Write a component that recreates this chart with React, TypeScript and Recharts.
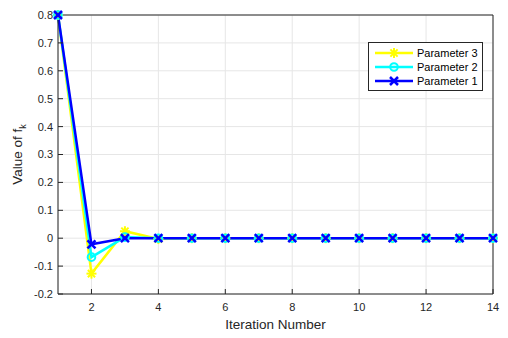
import React from 'react';
import { LineChart, Line, XAxis, YAxis, CartesianGrid, Legend } from 'recharts';

const iterations = [1, 2, 3, 4, 5, 6, 7, 8, 9, 10, 11, 12, 13, 14];
const param1 = [0.8, -0.022, 0, 0, 0, 0, 0, 0, 0, 0, 0, 0, 0, 0];
const param2 = [0.8, -0.068, 0.004, 0, 0, 0, 0, 0, 0, 0, 0, 0, 0, 0];
const param3 = [0.8, -0.127, 0.025, -0.003, 0, 0, 0, 0, 0, 0, 0, 0, 0, 0];
const xTicks = [2, 4, 6, 8, 10, 12, 14];
const yTicks = [-0.2, -0.1, 0, 0.1, 0.2, 0.3, 0.4, 0.5, 0.6, 0.7, 0.8];
const seriesNames = ['Parameter 3', 'Parameter 2', 'Parameter 1'];

const FONT = '"Liberation Sans", Arial, sans-serif';
const AXIS = '#262626';

const data = iterations.map((it, i) => ({
  it,
  p1: param1[i],
  p2: param2[i],
  p3: param3[i],
}));

const Star = ({ cx, cy, color, r = 5 }: any) => {
  if (cx == null || cy == null) return null;
  const d = r * 0.72;
  return (
    <g stroke={color} strokeWidth={2}>
      <line x1={cx - r} y1={cy} x2={cx + r} y2={cy} />
      <line x1={cx} y1={cy - r} x2={cx} y2={cy + r} />
      <line x1={cx - d} y1={cy - d} x2={cx + d} y2={cy + d} />
      <line x1={cx - d} y1={cy + d} x2={cx + d} y2={cy - d} />
    </g>
  );
};

const Ring = ({ cx, cy, color }: any) => {
  if (cx == null || cy == null) return null;
  return <circle cx={cx} cy={cy} r={3.8} fill="none" stroke={color} strokeWidth={2} />;
};

const Cross = ({ cx, cy, color, r = 4 }: any) => {
  if (cx == null || cy == null) return null;
  return (
    <g stroke={color} strokeWidth={2.5}>
      <line x1={cx - r} y1={cy - r} x2={cx + r} y2={cy + r} />
      <line x1={cx - r} y1={cy + r} x2={cx + r} y2={cy - r} />
    </g>
  );
};

const series = [
  { key: 'p3', color: '#ffff00', Marker: Star },
  { key: 'p2', color: '#00ffff', Marker: Ring },
  { key: 'p1', color: '#0000ff', Marker: Cross },
];

const LegendBox = () => (
  <svg width={116} height={50} style={{ display: 'block' }}>
    <rect x={0.5} y={0.5} width={114} height={48} fill="#fff" stroke={AXIS} strokeWidth={1} />
    {series.map((s, i) => {
      const y = 11 + i * 14;
      const M = s.Marker;
      return (
        <g key={s.key}>
          <line x1={7} y1={y} x2={45} y2={y} stroke={s.color} strokeWidth={2.5} />
          <M cx={26} cy={y} color={s.color} />
          <text x={49} y={y + 4} fontSize={11} fill="#000" fontFamily={FONT}>
            {seriesNames[i]}
          </text>
        </g>
      );
    })}
  </svg>
);

const YLabel = ({ viewBox }: any) => {
  const cy = viewBox.y + viewBox.height / 2;
  const x = 22;
  return (
    <text
      transform={`translate(${x},${cy}) rotate(-90)`}
      textAnchor="middle"
      fontSize={13.5}
      fill={AXIS}
      fontFamily={FONT}
    >
      Value of f<tspan fontSize={9} dy={4}>k</tspan>
    </text>
  );
};

const XLabel = ({ viewBox }: any) => (
  <text
    x={viewBox.x + viewBox.width / 2}
    y={viewBox.y + 35}
    textAnchor="middle"
    fontSize={13.5}
    fill={AXIS}
    fontFamily={FONT}
  >
    Iteration Number
  </text>
);

const tickStyle = { fontSize: 11, fill: AXIS, fontFamily: FONT };

export default function App() {
  return (
    <div style={{ position: 'absolute', left: 0, top: 0, width: 508, height: 338, background: '#fff' }}>
      <LineChart width={508} height={338} data={data} margin={{ top: 14, right: 14, bottom: 0, left: 0 }}>
        <CartesianGrid stroke="#e6e6e6" strokeWidth={1} />
        <XAxis
          dataKey="it"
          type="number"
          domain={[1, 14]}
          ticks={xTicks}
          height={44}
          stroke={AXIS}
          tickSize={-5}
          tickMargin={14}
          tick={tickStyle}
          label={<XLabel />}
        />
        <XAxis
          xAxisId="top"
          dataKey="it"
          type="number"
          orientation="top"
          domain={[1, 14]}
          ticks={xTicks}
          height={1}
          stroke={AXIS}
          tickSize={-5}
          tick={false}
        />
        <YAxis
          type="number"
          domain={[-0.2, 0.8]}
          ticks={yTicks}
          width={58}
          stroke={AXIS}
          tickSize={-5}
          tickMargin={10}
          tick={tickStyle}
          tickFormatter={(v: number) => String(v)}
          label={<YLabel />}
        />
        <YAxis
          yAxisId="right"
          orientation="right"
          type="number"
          domain={[-0.2, 0.8]}
          ticks={yTicks}
          width={1}
          stroke={AXIS}
          tickSize={-5}
          tick={false}
        />
        <Legend
          layout="vertical"
          align="center"
          verticalAlign="middle"
          wrapperStyle={{ left: 368, top: 42, width: 116, height: 50 }}
          content={<LegendBox />}
        />
        {series.map((s, i) => (
          <Line
            key={s.key}
            dataKey={s.key}
            name={seriesNames[i]}
            stroke={s.color}
            strokeWidth={2.5}
            isAnimationActive={false}
            dot={(p: any) => <s.Marker key={`${s.key}-${p.index}`} cx={p.cx} cy={p.cy} color={s.color} />}
            activeDot={false}
          />
        ))}
      </LineChart>
    </div>
  );
}
